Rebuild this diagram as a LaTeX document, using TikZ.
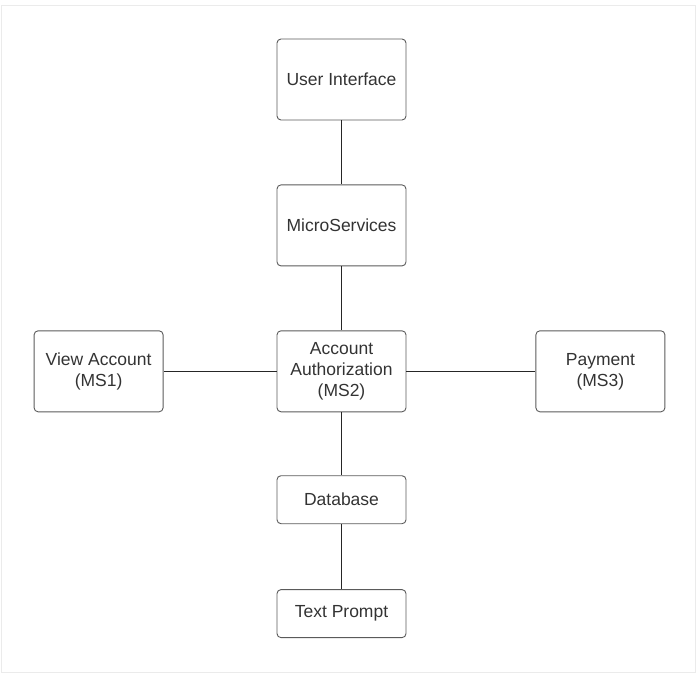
\documentclass[tikz,border=0pt]{standalone}
\usepackage{fontspec}
\setmainfont{Liberation Sans}
\usetikzlibrary{positioning}
\definecolor{boxline}{HTML}{5A5A5A}
\definecolor{boxtext}{HTML}{333333}
\definecolor{frameline}{HTML}{EBEBEB}
\tikzset{
  svcbox/.style={draw=boxline, rounded corners=4pt, line width=0.9pt, minimum width=129pt, minimum height=81pt, align=center, text=boxtext, font=\fontsize{17.5}{21}\selectfont, inner sep=0pt},
  flatbox/.style={svcbox, minimum height=48pt},
  link/.style={draw=black!85, line width=0.9pt}
}
\begin{document}
\begin{tikzpicture}[x=1pt, y=-1pt, node distance=64pt]
  \useasboundingbox (0,0) rectangle (696,673);
  \draw[frameline, line width=1pt] (1,5) rectangle (695,672);
  \node[svcbox] (ui) at (341.5,79.5) {User Interface};
  \node[svcbox, below=64pt of ui] (micro) {MicroServices};
  \node[svcbox, below=64pt of micro] (auth) {Account\\Authorization\\(MS2)};
  \node[svcbox, left=113pt of auth] (view) {View Account\\(MS1)};
  \node[svcbox, right=129pt of auth] (pay) {Payment\\(MS3)};
  \node[flatbox, below=63pt of auth] (db) {Database};
  \node[flatbox, below=65pt of db] (prompt) {Text Prompt};
  \draw[link] (ui) -- (micro);
  \draw[link] (micro) -- (auth);
  \draw[link] (auth) -- (view);
  \draw[link] (auth) -- (pay);
  \draw[link] (auth) -- (db);
  \draw[link] (db) -- (prompt);
\end{tikzpicture}
\end{document}
